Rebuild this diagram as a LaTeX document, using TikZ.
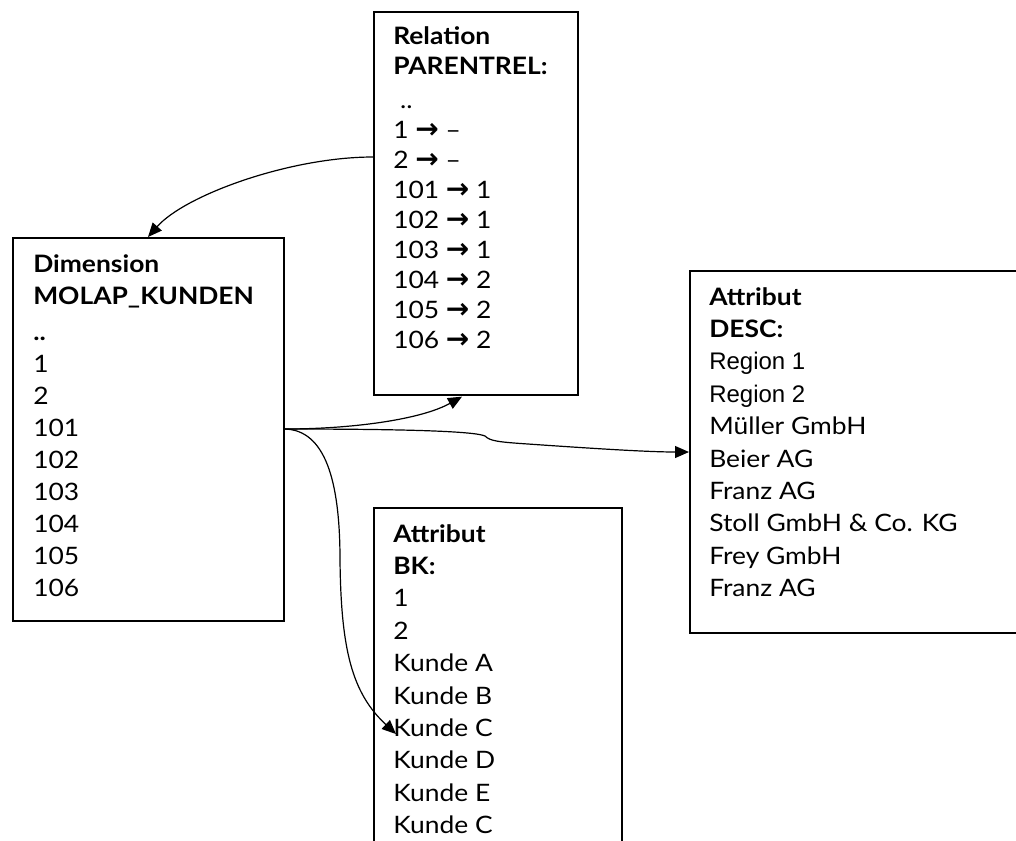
\documentclass[tikz,border=0pt]{standalone}
\usepackage{fontspec}
\setmainfont{Lato}[FakeStretch=1.1]
\newfontfamily\arialf{Liberation Sans}
\newfontfamily\symf{DejaVu Sans}
\usetikzlibrary{arrows.meta,calc}
\newcommand{\ra}{{\symf\bfseries\fontsize{21}{0}\selectfont →}}
\begin{document}
\begin{tikzpicture}[x=0.75pt,y=-0.75pt,
  boxst/.style={draw,line width=1.25pt,anchor=north west,inner sep=0pt},
  txt/.style={anchor=north west,inner sep=0pt,align=left,font=\fontsize{18}{24.3}\selectfont},
  arr/.style={line width=0.9pt,-{Triangle[length=10.5pt,width=9pt]}}]
\useasboundingbox (0,0) rectangle (1016,840);
% boxes
\node[boxst,minimum width=204*0.75pt,minimum height=383*0.75pt] (rel) at (373,11) {};
\node[boxst,minimum width=271*0.75pt,minimum height=383*0.75pt] (dim) at (12,237) {};
\node[boxst,minimum width=340*0.75pt,minimum height=362*0.75pt] (desc) at (689,270) {};
\node[boxst,minimum width=248*0.75pt,minimum height=360*0.75pt] (bk) at (373,507) {};
% texts
\node[txt,font=\fontsize{18}{22.5}\selectfont] (relt) at (393,26) {\textbf{Relation}\\\textbf{PARENTREL:}\\[3pt]\ ..\\1 \ra{} --\\2 \ra{} --\\101 \ra{} 1\\102 \ra{} 1\\103 \ra{} 1\\104 \ra{} 2\\105 \ra{} 2\\106 \ra{} 2};
\node[txt,font=\fontsize{18}{24}\selectfont] (dimt) at (33,254) {\textbf{Dimension}\\\textbf{MOLAP\_KUNDEN}\\[3pt]\textbf{..}\\1\\2\\101\\102\\103\\104\\105\\106};
\node[txt] (desct) at (709,287) {\textbf{Attribut}\\\textbf{DESC:}\\{\arialf Region 1}\\{\arialf Region 2}\\Müller GmbH\\Beier AG\\Franz AG\\Stoll GmbH \& Co. KG\\Frey GmbH\\Franz AG};
\node[txt] (bkt) at (393,524) {\textbf{Attribut}\\\textbf{BK:}\\1\\2\\Kunde A\\Kunde B\\Kunde C\\Kunde D\\Kunde E\\Kunde C};
% connectors
\coordinate (o) at ($(dim.north east)+(0,192)$);
\draw[arr] ($(rel.north west)+(0,146)$) .. controls (290,157) and (185,195) .. ($(dim.north west)+(136,0)$);
\draw[arr] (o) .. controls (350,429) and (420,420) .. ($(rel.south west)+(89,1)$);
\draw[arr] (o) .. controls (400,429) and (474,431) .. (485,436) .. controls (490,441) and (498,442) .. (528,444) .. controls (600,449) and (650,452) .. ($(desc.north west)+(0,182)$);
\draw[arr] (o) .. controls (325,430) and (340,480) .. (340,560) .. controls (341,650) and (352,693) .. ($(bk.north west)+(23,227)$);
\end{tikzpicture}
\end{document}
